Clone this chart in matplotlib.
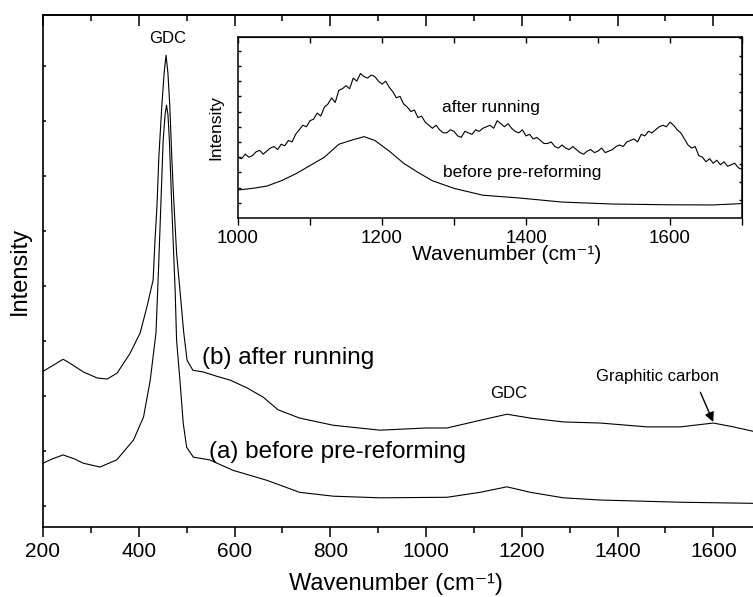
import numpy as np
import matplotlib
matplotlib.use("Agg")
import matplotlib.pyplot as plt
from matplotlib.ticker import MultipleLocator

plt.rcParams['font.family'] = ['Liberation Sans', 'DejaVu Sans']

# ---- main spectra ----
wn_b = [200, 225, 242, 252, 270, 284, 313, 334, 355, 382, 403, 417, 430, 434, 438, 442,
        448, 453, 457, 461, 465, 469, 472, 479, 486, 494, 501, 513, 534, 563, 591, 626,
        660, 691, 736, 806, 904, 1000, 1044, 1113, 1169, 1218, 1287, 1364, 1462, 1531,
        1600, 1642, 1683]
int_b = [3.45, 3.58, 3.67, 3.62, 3.52, 3.44, 3.33, 3.31, 3.42, 3.78, 4.15, 4.62, 5.11,
         5.84, 6.44, 7.35, 8.25, 8.87, 9.20, 8.87, 8.25, 7.35, 6.75, 5.60, 4.93, 4.15,
         3.65, 3.47, 3.44, 3.36, 3.29, 3.15, 2.98, 2.75, 2.60, 2.47, 2.38, 2.42, 2.42,
         2.56, 2.67, 2.60, 2.53, 2.51, 2.44, 2.44, 2.51, 2.44, 2.36]

wn_a = [200, 220, 242, 265, 284, 319, 354, 389, 410, 424, 436, 441, 446, 451, 455, 458,
        461, 464, 469, 476, 479, 486, 493, 500, 514, 548, 597, 667, 736, 806, 904, 1044,
        1113, 1169, 1218, 1287, 1364, 1531, 1683]
int_a = [1.78, 1.86, 1.93, 1.86, 1.78, 1.71, 1.84, 2.20, 2.62, 3.29, 4.15, 5.24, 6.44,
         7.65, 8.12, 8.29, 8.12, 7.65, 6.44, 4.93, 4.02, 3.29, 2.50, 2.07, 1.89, 1.84,
         1.65, 1.47, 1.25, 1.18, 1.15, 1.16, 1.25, 1.35, 1.25, 1.15, 1.11, 1.07, 1.05]

# ---- inset spectra ----
wn_in_after = list(range(1000, 1701, 5))
int_in_after = [4.0, 3.9, 4.2, 4.0, 4.1, 4.35, 4.45, 4.2, 4.4, 4.6,
                4.7, 4.5, 4.85, 4.75, 5.1, 5.0, 5.5, 5.8, 6.1, 6.0,
                6.4, 6.5, 6.9, 6.7, 7.3, 7.5, 7.9, 7.6, 8.4, 8.5,
                8.7, 8.5, 9.2, 9.0, 9.5, 9.3, 9.2, 9.4, 9.3, 9.0,
                8.8, 9.0, 8.6, 8.3, 7.9, 8.0, 7.5, 7.3, 7.0, 7.1,
                6.6, 6.7, 6.3, 6.1, 5.9, 6.1, 5.8, 5.6, 5.6, 5.8,
                5.7, 5.4, 5.3, 5.7, 5.6, 5.5, 5.8, 5.7, 5.9, 6.0,
                6.1, 5.9, 6.4, 6.2, 6.0, 6.2, 5.9, 5.7, 5.6, 5.8,
                5.4, 5.5, 5.2, 5.3, 5.1, 4.9, 4.9, 5.0, 4.7, 4.6,
                4.8, 4.6, 4.5, 4.7, 4.5, 4.3, 4.2, 4.4, 4.5, 4.3,
                4.4, 4.6, 4.3, 4.4, 4.5, 4.7, 4.8, 4.7, 5.0, 5.1,
                5.2, 5.0, 5.5, 5.4, 5.7, 5.6, 5.8, 6.0, 6.1, 6.0,
                6.3, 6.1, 5.8, 5.6, 5.2, 4.8, 4.6, 4.7, 4.1, 4.0,
                3.7, 3.9, 3.6, 3.8, 3.5, 3.7, 3.4, 3.5, 3.6, 3.3,
                3.2]
wn_in_before = [1000, 1020, 1040, 1060, 1080, 1100, 1120, 1140, 1160, 1175, 1190, 1210,
                1230, 1250, 1270, 1300, 1340, 1390, 1450, 1520, 1600, 1660, 1700]
int_in_before = [1.84, 1.95, 2.10, 2.45, 2.90, 3.45, 4.00, 4.85, 5.15, 5.35, 5.10, 4.40,
                 3.60, 3.00, 2.45, 1.95, 1.50, 1.32, 1.05, 0.92, 0.87, 0.86, 0.95]

fig = plt.figure(figsize=(7.53, 5.97), dpi=100)
ax = fig.add_axes([0.0571, 0.1173, 0.9429, 0.8576])

ax.plot(wn_b, int_b, color='black', lw=0.8)
ax.plot(wn_a, int_a, color='black', lw=0.8)
ax.set_xlim(200, 1683)
ax.set_ylim(0.62, 9.93)

for s in ax.spines.values():
    s.set_linewidth(1.2)
ax.spines['right'].set_visible(False)

ax.xaxis.set_major_locator(MultipleLocator(200))
ax.xaxis.set_minor_locator(MultipleLocator(100))
ax.tick_params(axis='x', which='major', direction='out', length=7, width=1.1,
               labelsize=15, pad=3.5, top=False)
ax.tick_params(axis='x', which='minor', direction='out', length=4, width=1.1, top=False)
ax.set_yticks(np.arange(1, 10))
ax.tick_params(axis='y', which='major', direction='in', length=2, width=1.1,
               labelleft=False, right=False)

top = ax.secondary_xaxis('top')
top.xaxis.set_major_locator(MultipleLocator(200))
top.xaxis.set_minor_locator(MultipleLocator(100))
top.tick_params(which='major', direction='in', length=8, width=1.1, labeltop=False)
top.tick_params(which='minor', direction='in', length=4.5, width=1.1)
top.spines['top'].set_linewidth(1.2)

ax.set_xlabel('Wavenumber (cm\u207b\u00b9)', fontsize=17)
ax.xaxis.set_label_coords(0.497, -0.089)
ax.set_ylabel('Intensity', fontsize=17)
ax.yaxis.set_label_coords(-0.017, 0.5)

ax.text(461, 9.51, 'GDC', fontsize=12, ha='center', va='center')
ax.text(532, 3.69, '(b) after running', fontsize=17.5, ha='left', va='center')
ax.text(547, 1.98, '(a) before pre-reforming', fontsize=17.5, ha='left', va='center')
ax.text(1172, 3.05, 'GDC', fontsize=12, ha='center', va='center')
ax.text(1483, 3.35, 'Graphitic carbon', fontsize=12, ha='center', va='center')
ax.annotate('', xy=(1600, 2.53), xytext=(1573, 3.07),
            arrowprops=dict(arrowstyle='-|>', color='black', lw=1.0,
                            mutation_scale=14, shrinkA=0, shrinkB=0))

# ---- inset ----
ins = fig.add_axes([0.3161, 0.6348, 0.6693, 0.3032])
ins.plot(wn_in_after, int_in_after, color='black', lw=0.8)
ins.plot(wn_in_before, int_in_before, color='black', lw=0.8)
ins.set_xlim(1000, 1700)
ins.set_ylim(0, 11.9)
for s in ins.spines.values():
    s.set_linewidth(1.1)
ins.xaxis.set_major_locator(MultipleLocator(200))
ins.xaxis.set_minor_locator(MultipleLocator(100))
ins.tick_params(axis='x', which='both', direction='out', length=5, width=1.0,
                labelsize=13.5, pad=3.5, top=False)
ins.set_yticks(np.arange(1, 12))
ins.tick_params(axis='y', direction='in', length=2, width=1.0, labelleft=False)

itop = ins.secondary_xaxis('top')
itop.xaxis.set_major_locator(MultipleLocator(200))
itop.xaxis.set_minor_locator(MultipleLocator(100))
itop.tick_params(which='both', direction='in', length=4, width=1.0, labeltop=False)

iright = ins.secondary_yaxis('right', functions=(lambda y: y / 1.184, lambda y: y * 1.184))
iright.set_yticks(np.arange(1, 11))
iright.tick_params(direction='in', length=2, width=1.0, labelright=False)

ins.set_xlabel('Wavenumber (cm\u207b\u00b9)', fontsize=15)
ins.xaxis.set_label_coords(0.532, -0.15)
ins.set_ylabel('Intensity', fontsize=12.5)
ins.yaxis.set_label_coords(-0.03, 0.5)
ins.text(1283, 7.24, 'after running', fontsize=12.5, ha='left', va='center')
ins.text(1285, 2.96, 'before pre-reforming', fontsize=12.5, ha='left', va='center')

fig.savefig('out.png', dpi=100)
